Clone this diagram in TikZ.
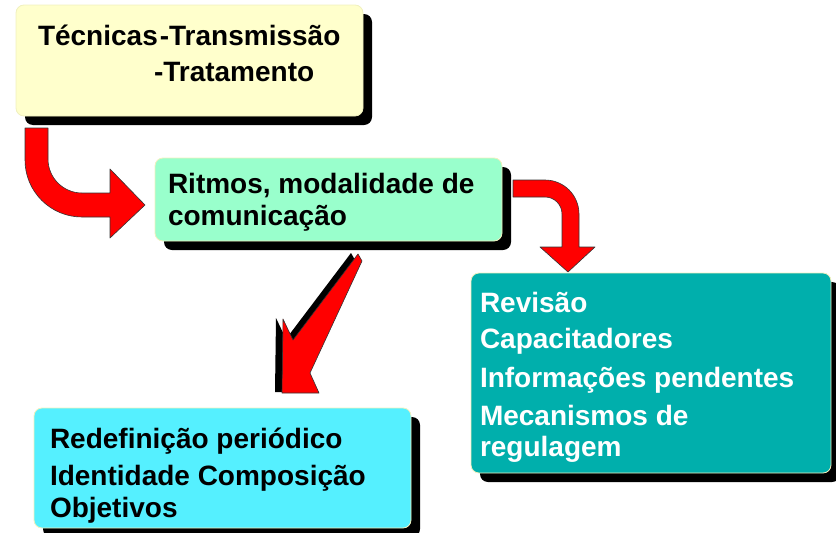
\documentclass[tikz,border=0pt]{standalone}
\usepackage{fontspec}
\setmainfont{Liberation Sans}
\usetikzlibrary{shadows}
\definecolor{boxyellow}{RGB}{255,255,204}
\definecolor{boxgreen}{RGB}{153,255,204}
\definecolor{boxteal}{RGB}{0,175,172}
\definecolor{boxcyan}{RGB}{85,240,255}
\definecolor{boxedge}{RGB}{240,240,190}
\definecolor{arrowred}{RGB}{255,0,0}
\begin{document}
\begin{tikzpicture}[x=1pt,y=-1pt,
  panel/.style={draw=boxedge,line width=0.8pt,rounded corners=8pt,anchor=north west,
    inner sep=0pt,outer sep=0pt,
    drop shadow={shadow xshift=9pt,shadow yshift=-9pt,opacity=1,fill=black}},
  txt/.style={anchor=base west,inner sep=0pt,outer sep=0pt,
    font=\fontsize{28}{33}\selectfont\bfseries},
  bigarrow/.style={fill=arrowred,draw=black!80,line width=0.6pt,line join=round}]
\useasboundingbox (0,0) rectangle (836,533);

% panels
\node[panel,fill=boxyellow,minimum width=347pt,minimum height=111pt] (b1) at (16,5) {};
\node[panel,fill=boxgreen,minimum width=347pt,minimum height=83pt] (b2) at (155,158) {};
\node[panel,fill=boxteal,minimum width=360pt,minimum height=200pt] (b3) at (471,273) {};
\node[panel,fill=boxcyan,minimum width=377pt,minimum height=120pt] (b4) at (34,408) {};

% texts
\node[txt] (t1a) at (38,45) {Técnicas\hspace{2pt}-Transmissão};
\node[txt] (t1b) at (154,81) {-Tratamento};
\node[txt] (t2a) at (168,193) {Ritmos, modalidade de};
\node[txt] (t2b) at (168,225) {comunicação};
\node[txt,text=white] (t3a) at (480,312) {Revisão};
\node[txt,text=white] (t3b) at (480,348) {Capacitadores};
\node[txt,text=white] (t3c) at (480,387) {Informações pendentes};
\node[txt,text=white] (t3d) at (480,425) {Mecanismos de};
\node[txt,text=white] (t3e) at (480,456) {regulagem};
\node[txt] (t4a) at (50,448) {Redefinição periódico};
\node[txt] (t4b) at (50,485) {Identidade Composição};
\node[txt] (t4c) at (50,517) {Objetivos};

% arrow 1 : yellow -> green
\path[bigarrow] (25,128) -- (25,160)
  .. controls (25,191.5) and (50.5,217) .. (82,217)
  -- (110,217) -- (110,238) -- (145,205) -- (110,169) -- (110,193)
  -- (82,193)
  .. controls (63.2,193) and (48,177.8) .. (48,159)
  -- (48,128) -- cycle;

% arrow 2 : green -> teal
\path[bigarrow] (513,180) -- (545,180)
  .. controls (563.8,180) and (579,195.2) .. (579,214)
  -- (579,247) -- (595,247) -- (568,272) -- (540,247) -- (562,247)
  -- (562,214)
  .. controls (562,204.6) and (554.4,197) .. (545,197)
  -- (513,197) -- cycle;

% arrow 3 : green -> cyan (check shaped)
\fill[black] (351,253) -- (355,260) -- (303,372) -- (312,392) -- (275,392)
  -- (276,318) -- (286,339) -- cycle;
\path[bigarrow] (358,254) -- (362,261) -- (310,373) -- (319,393) -- (282,393)
  -- (283,319) -- (293,340) -- cycle;
\end{tikzpicture}
\end{document}
